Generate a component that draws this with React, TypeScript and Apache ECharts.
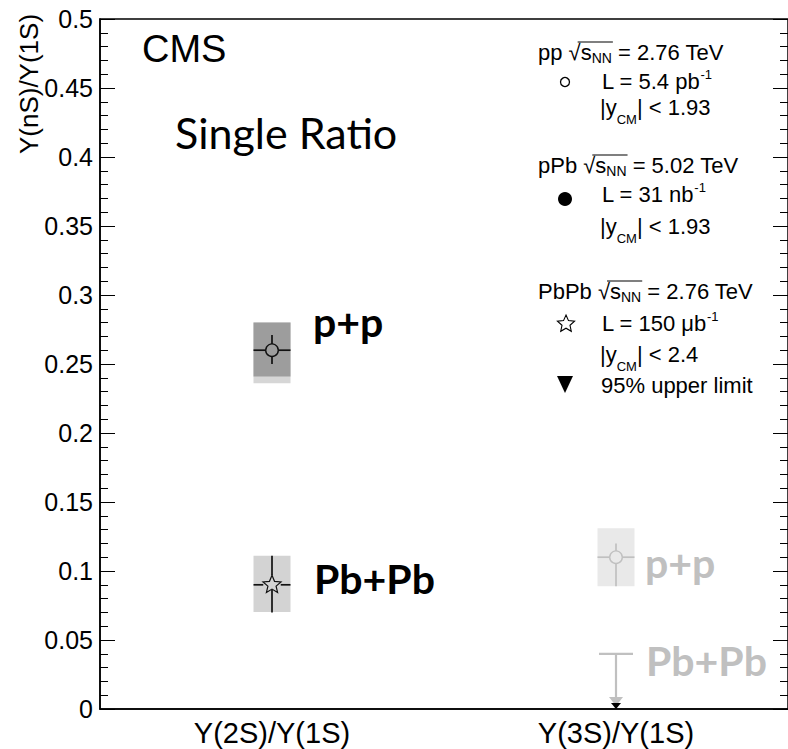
import React, { useEffect, useRef } from 'react';
import * as echarts from 'echarts';

// ---------------- data ----------------
const categories = ['Υ(2S)/Υ(1S)', 'Υ(3S)/Υ(1S)'];
const yMin = 0;
const yMax = 0.5;
const yStep = 0.05;

// p+p (open circles), one entry per category [2S, 3S]
const ppRatio = [0.26, 0.11];
const ppStatLow = [0.25, 0.089];
const ppStatHigh = [0.271, 0.12];
const ppSystLow = [0.241, 0.089];
const ppSystHigh = [0.28, 0.131];
// lighter band below the p+p 2S systematic box
const ppExtraBand2S = [0.236, 0.28];

// Pb+Pb (open star), 2S
const pbpbRatio2S = 0.09;
const pbpbStat2S = [0.07, 0.111];
const pbpbSyst2S = [0.0703, 0.111];
// Pb+Pb 3S : 95% CL upper limit
const pbpbUpperLimit3S = 0.04;

// ---------------- styles ----------------
const BOX_HALF = 18.5;
const BLACK = '#000';
const GREY = '#c0c0c0';
const SANS = 'Liberation Sans';

function boxSeries(name: string, cat: number, low: number, high: number, color: string, z: number) {
  return {
    type: 'custom',
    name,
    silent: true,
    clip: false,
    z,
    encode: { x: 0, y: [1, 2] },
    data: [[cat, low, high]],
    renderItem: (_p: any, api: any) => {
      const top = api.coord([api.value(0), api.value(2)]);
      const bot = api.coord([api.value(0), api.value(1)]);
      return {
        type: 'rect',
        shape: { x: top[0] - BOX_HALF, y: top[1], width: 2 * BOX_HALF, height: bot[1] - top[1] },
        style: { fill: color },
      };
    },
  };
}

function starPoints(cx: number, cy: number, R: number, r: number) {
  const pts: number[][] = [];
  for (let i = 0; i < 10; i++) {
    const a = -Math.PI / 2 + (i * Math.PI) / 5;
    const rad = i % 2 === 0 ? R : r;
    pts.push([cx + rad * Math.cos(a), cy + rad * Math.sin(a)]);
  }
  return pts;
}

function pointSeries(
  name: string,
  cat: number,
  val: number,
  lo: number,
  hi: number,
  color: string,
  marker: 'circle' | 'star',
  z: number
) {
  return {
    type: 'custom',
    name,
    silent: true,
    clip: false,
    z,
    encode: { x: 0, y: [1, 2, 3] },
    data: [[cat, val, lo, hi]],
    renderItem: (_p: any, api: any) => {
      const c = api.coord([api.value(0), api.value(1)]);
      const cx = c[0];
      const cy = c[1];
      const yLo = api.coord([api.value(0), api.value(2)])[1];
      const yHi = api.coord([api.value(0), api.value(3)])[1];
      const R = marker === 'circle' ? 6.3 : 9.5;
      const rIn = 4.3;
      const gapTop = R;
      const gapBot = marker === 'circle' ? R : rIn + 1;
      const gapSide = marker === 'circle' ? R : R * 0.92;
      const ls = { stroke: color, lineWidth: 1.7 };
      const children: any[] = [];
      if (yHi < cy - gapTop) children.push({ type: 'line', shape: { x1: cx, y1: yHi, x2: cx, y2: cy - gapTop }, style: ls });
      if (yLo > cy + gapBot) children.push({ type: 'line', shape: { x1: cx, y1: cy + gapBot, x2: cx, y2: yLo }, style: ls });
      children.push({ type: 'line', shape: { x1: cx - BOX_HALF, y1: cy, x2: cx - gapSide, y2: cy }, style: ls });
      children.push({ type: 'line', shape: { x1: cx + gapSide, y1: cy, x2: cx + BOX_HALF, y2: cy }, style: ls });
      if (marker === 'circle') {
        children.push({ type: 'circle', shape: { cx, cy, r: R }, style: { fill: 'none', stroke: color, lineWidth: 1.4 } });
      } else {
        children.push({
          type: 'polygon',
          shape: { points: starPoints(cx, cy, R, rIn) },
          style: { fill: 'none', stroke: color, lineWidth: 1.2 },
        });
      }
      return { type: 'group', children };
    },
  };
}

function upperLimitSeries(name: string, cat: number, limit: number, color: string, z: number) {
  return {
    type: 'custom',
    name,
    silent: true,
    clip: false,
    z,
    encode: { x: 0, y: 1 },
    data: [[cat, limit]],
    renderItem: (_p: any, api: any) => {
      const c = api.coord([api.value(0), api.value(1)]);
      const cx = c[0];
      const cy = c[1];
      const y0 = api.coord([api.value(0), 0])[1];
      const ls = { stroke: color, lineWidth: 2.2 };
      return {
        type: 'group',
        children: [
          { type: 'line', shape: { x1: cx - 17, y1: cy, x2: cx + 17, y2: cy }, style: ls },
          { type: 'line', shape: { x1: cx, y1: cy, x2: cx, y2: y0 - 11 }, style: ls },
          { type: 'polygon', shape: { points: [[cx - 7, y0 - 12], [cx + 7, y0 - 12], [cx, y0 - 3]] }, style: { fill: color } },
          { type: 'polygon', shape: { points: [[cx - 5, y0 - 6], [cx + 5, y0 - 6], [cx, y0]] }, style: { fill: BLACK } },
        ],
      };
    },
  };
}

function plainText(x: number, y: number, text: string, fontSize: number, fontFamily: string, color: string, bold = false) {
  return {
    type: 'text',
    x,
    y,
    silent: true,
    style: {
      text,
      fill: color,
      fontSize,
      fontFamily,
      fontWeight: bold ? 'bold' : 'normal',
      align: 'left',
      textAlign: 'left',
      verticalAlign: 'middle',
      textVerticalAlign: 'middle',
    },
  };
}

const LEG_FS = 22;

export default function App() {
  const ref = useRef<HTMLDivElement>(null);

  useEffect(() => {
    if (!ref.current) return;
    const chart = echarts.init(ref.current, undefined, { renderer: 'svg' });

    const ctx = document.createElement('canvas').getContext('2d') as CanvasRenderingContext2D;
    const measure = (t: string, fs: number) => {
      ctx.font = `${fs}px "${SANS}"`;
      return ctx.measureText(t).width;
    };

    // a legend line made of pieces: [text, fontSize, dy]
    const compose = (x0: number, yc: number, pieces: [string, number, number][], out: any[]) => {
      let x = x0;
      const starts: number[] = [];
      pieces.forEach(([t, fs, dy]) => {
        const lead = t.length - t.replace(/^\s+/, '').length;
        const trimmed = t.trim();
        const tx = x + (lead ? measure(t.slice(0, lead), fs) : 0);
        starts.push(tx);
        if (trimmed) out.push(plainText(tx, yc + dy, trimmed, fs, SANS, BLACK));
        x += measure(t.replace(/\s+$/, ''), fs) + (/\s$/.test(t) ? measure(' ', fs) : 0);
        starts.push(x);
      });
      return starts;
    };

    const legend: any[] = [];
    const headerX = 538;
    const headers: [string, string, number][] = [
      ['pp', '= 2.76 TeV', 52],
      ['pPb', '= 5.02 TeV', 165],
      ['PbPb', '= 2.76 TeV', 291],
    ];
    headers.forEach(([lead, rest, y]) => {
      const s = compose(
        headerX,
        y,
        [
          [lead + ' ', LEG_FS, 0],
          ['√', LEG_FS, 0],
          ['s', LEG_FS, 0],
          ['NN', 14, 6],
          [' ' + rest, LEG_FS, 0],
        ],
        legend
      );
      const sqStart = s[2];
      const sqEnd = s[3];
      const nnEnd = s[7];
      legend.push({
        type: 'line',
        silent: true,
        shape: { x1: sqStart + (sqEnd - sqStart) * 0.75, y1: y - 10, x2: nnEnd + 1, y2: y - 10 },
        style: { stroke: BLACK, lineWidth: 1.2 },
      });
    });
    const lumi: [string, number][] = [
      ['L = 5.4 pb', 81],
      ['L = 31 nb', 194],
      ['L = 150 μb', 323],
    ];
    lumi.forEach(([t, y]) => compose(602, y, [[t, LEG_FS, 0], ['-1', 13, -7]], legend));
    const rap: [string, number][] = [
      ['< 1.93', 107],
      ['< 1.93', 226],
      ['< 2.4', 354],
    ];
    rap.forEach(([t, y]) => compose(600, y, [['|y', LEG_FS, 0], ['CM', 13, 12], ['| ' + t, LEG_FS, 0]], legend));
    legend.push(plainText(601, 385, '95% upper limit', LEG_FS, SANS, BLACK));

    const graphic: any[] = [
      // y axis title
      {
        type: 'text',
        x: 29,
        y: 84,
        rotation: Math.PI / 2,
        silent: true,
        style: {
          text: 'Υ(nS)/Υ(1S)',
          fill: BLACK,
          fontSize: 26,
          fontFamily: SANS,
          align: 'center',
          textAlign: 'center',
          verticalAlign: 'middle',
          textVerticalAlign: 'middle',
        },
      },
      plainText(142, 49, 'CMS', 38, SANS, BLACK),
      plainText(175, 132, 'Single Ratio', 43, 'Lato', BLACK),
      plainText(313, 321, 'p+p', 41, 'Lato', BLACK, true),
      plainText(314, 578, 'Pb+Pb', 41, 'Lato', BLACK, true),
      plainText(645, 562, 'p+p', 41, 'Lato', GREY, true),
      plainText(646, 660, 'Pb+Pb', 41, 'Lato', GREY, true),
      ...legend,
      // legend markers
      { type: 'circle', silent: true, shape: { cx: 565, cy: 82, r: 4.5 }, style: { fill: 'none', stroke: BLACK, lineWidth: 1.3 } },
      { type: 'circle', silent: true, shape: { cx: 565, cy: 199, r: 7 }, style: { fill: BLACK } },
      { type: 'polygon', silent: true, shape: { points: starPoints(566, 324, 9, 4.2) }, style: { fill: 'none', stroke: BLACK, lineWidth: 1.1 } },
      { type: 'polygon', silent: true, shape: { points: [[557, 376], [573, 376], [565, 393]] }, style: { fill: BLACK } },
    ];

    const yAxisCommon = {
      type: 'value',
      min: yMin,
      max: yMax,
      interval: yStep,
      splitLine: { show: false },
      minorSplitLine: { show: false },
      axisTick: { show: true, inside: true, length: 15, lineStyle: { color: BLACK, width: 1 } },
      minorTick: { show: true, splitNumber: 5, length: 8, lineStyle: { color: BLACK, width: 1 } },
    };

    const option: any = {
      animation: false,
      backgroundColor: '#fff',
      grid: {
        left: 100,
        right: 0,
        top: 19,
        bottom: 40,
        show: true,
        borderColor: BLACK,
        borderWidth: 1.5,
        backgroundColor: 'transparent',
        containLabel: false,
        outerBoundsMode: 'none',
      },
      xAxis: {
        type: 'category',
        data: categories,
        boundaryGap: true,
        axisLine: { show: true, lineStyle: { color: BLACK, width: 1.5 } },
        axisTick: { show: false },
        splitLine: { show: false },
        axisLabel: { fontSize: 29, color: BLACK, fontFamily: SANS, margin: 9 },
      },
      yAxis: [
        {
          ...yAxisCommon,
          position: 'left',
          axisLine: { show: true, lineStyle: { color: BLACK, width: 1.5 } },
          axisLabel: { fontSize: 25, color: BLACK, fontFamily: SANS, margin: 7 },
        },
        {
          ...yAxisCommon,
          position: 'right',
          axisLine: { show: false },
          axisLabel: { show: false },
        },
      ],
      series: [
        boxSeries('p+p 2S extra band', 0, ppExtraBand2S[0], ppExtraBand2S[1], '#d6d6d6', 1),
        boxSeries('p+p 2S syst', 0, ppSystLow[0], ppSystHigh[0], '#9d9d9d', 2),
        boxSeries('Pb+Pb 2S syst', 0, pbpbSyst2S[0], pbpbSyst2S[1], '#d3d3d3', 2),
        boxSeries('p+p 3S syst', 1, ppSystLow[1], ppSystHigh[1], '#e9e9e9', 2),
        pointSeries('p+p 2S', 0, ppRatio[0], ppStatLow[0], ppStatHigh[0], '#111', 'circle', 5),
        pointSeries('Pb+Pb 2S', 0, pbpbRatio2S, pbpbStat2S[0], pbpbStat2S[1], '#111', 'star', 5),
        pointSeries('p+p 3S', 1, ppRatio[1], ppStatLow[1], ppStatHigh[1], GREY, 'circle', 5),
        upperLimitSeries('Pb+Pb 3S upper limit', 1, pbpbUpperLimit3S, GREY, 5),
      ],
      graphic,
    };

    chart.setOption(option);
    return () => chart.dispose();
  }, []);

  return (
    <div
      ref={ref}
      style={{ position: 'fixed', left: 0, top: 0, width: 788, height: 749, background: '#fff' }}
    />
  );
}
